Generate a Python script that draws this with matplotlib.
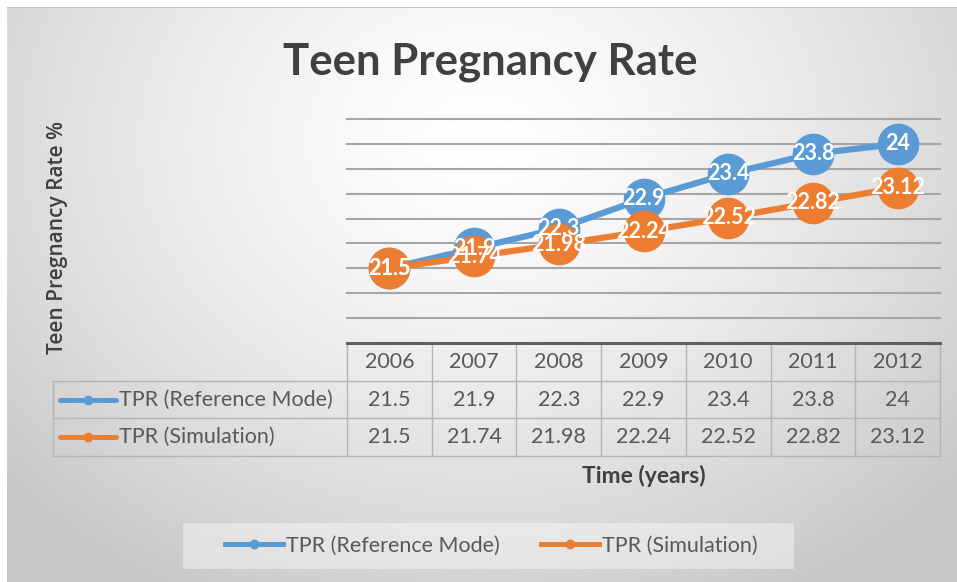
import numpy as np
import matplotlib.pyplot as plt
import matplotlib.transforms as mtransforms
from matplotlib.lines import Line2D
from matplotlib.patches import Rectangle

# data
years = ['2006', '2007', '2008', '2009', '2010', '2011', '2012']
ref_mode = [21.5, 21.9, 22.3, 22.9, 23.4, 23.8, 24]
simulation = [21.5, 21.74, 21.98, 22.24, 22.52, 22.82, 23.12]
ref_text = ['21.5', '21.9', '22.3', '22.9', '23.4', '23.8', '24']
sim_text = ['21.5', '21.74', '21.98', '22.24', '22.52', '22.82', '23.12']
series_names = ['TPR (Reference Mode)', 'TPR (Simulation)']

BLUE = '#5B9BD5'
ORANGE = '#ED7D31'
TXT = '#595959'
FONT = 'Lato'
TS = 15.5  # table / legend text size

W, H = 957, 582
fig = plt.figure(figsize=(W / 100, H / 100), dpi=100)


def px(x0, y0, x1, y1):
    # pixel box (top-left origin) -> figure fraction rect
    return [x0 / W, 1 - y1 / H, (x1 - x0) / W, (y1 - y0) / H]


# radial grey background like the Excel chart area
bg = fig.add_axes([0, 0, 1, 1], zorder=-10)
yy, xx = np.mgrid[0:H, 0:W]
d = np.sqrt(((xx - 480) / 640.0) ** 2 + ((yy - 140) / 520.0) ** 2)
shade = 1 - 0.22 * np.clip(d, 0, 1) ** 1.4
img = np.dstack([shade] * 3)
img[7, 7:] = 0.78
img[:7, :] = 1
img[:, :7] = 1
bg.imshow(img, aspect='auto', extent=(0, W, H, 0), interpolation='bilinear')
bg.axis('off')

fig.text(490 / W, 1 - 62 / H, 'Teen Pregnancy Rate', ha='center', va='center',
         fontsize=31.5, fontweight='bold', color='#404040', family=FONT)
fig.text(57 / W, 1 - 238 / H, 'Teen Pregnancy Rate %', rotation=90, ha='center',
         va='center', fontsize=15, fontweight='semibold', color='#404040',
         family='Open Sans')

# plot area
ax = fig.add_axes(px(347, 119, 940, 343))
ax.set_facecolor('none')
x = np.arange(len(years))
ax.set_xlim(-0.5, len(years) - 0.5)
ax.set_ylim(20, 24.5)
ax.set_yticks(np.arange(20.5, 24.51, 0.5))
ax.yaxis.grid(True, color='#a6a6a6', lw=1.5)
for gl in ax.get_ygridlines():
    gl.set_clip_on(False)
ax.tick_params(left=False, bottom=False, labelleft=False, labelbottom=False)
for s in ['left', 'right', 'top']:
    ax.spines[s].set_visible(False)
ax.spines['bottom'].set_color('#5f5f5f')
ax.spines['bottom'].set_linewidth(2.2)

ax.plot(x, ref_mode, color=BLUE, lw=4.5, marker='o', ms=29, zorder=3, clip_on=False)
ax.plot(x, simulation, color=ORANGE, lw=4.5, marker='o', ms=29, zorder=4, clip_on=False)
for xi, v, t in zip(x, ref_mode, ref_text):
    ax.text(xi, v, t, ha='center', va='center', color='white', fontsize=15.5,
            fontweight='bold', family=FONT, zorder=6)
for xi, v, t in zip(x, simulation, sim_text):
    ax.text(xi, v, t, ha='center', va='center', color='white', fontsize=15.5,
            fontweight='bold', family=FONT, zorder=6)

# data table under the axis
PXU = 593 / len(years)


def xpx(p):
    return -0.5 + (p - 347) / PXU


tr = mtransforms.blended_transform_factory(ax.transData, ax.transAxes)
rh = 37.7 / 224
left = xpx(53)
grid_kw = dict(color='#b4b4b4', lw=1, transform=tr, clip_on=False)
for i in range(len(years) + 1):
    ax.add_line(Line2D([i - 0.5, i - 0.5], [0, -3 * rh], **grid_kw))
ax.add_line(Line2D([left, left], [-rh, -3 * rh], **grid_kw))
for k in (1, 2, 3):
    ax.add_line(Line2D([left, len(years) - 0.5], [-k * rh, -k * rh], **grid_kw))

cell_kw = dict(ha='center', va='center', color=TXT, fontsize=TS, family=FONT,
               transform=tr, clip_on=False)
for i, yr in enumerate(years):
    ax.text(i, -0.5 * rh, yr, **cell_kw)
    ax.text(i, -1.5 * rh, ref_text[i], **cell_kw)
    ax.text(i, -2.5 * rh, sim_text[i], **cell_kw)

for r, (name, col) in enumerate(zip(series_names, [BLUE, ORANGE])):
    yc = -(r + 1.5) * rh
    ax.add_line(Line2D([xpx(60), xpx(116)], [yc, yc], color=col, lw=3.6,
                       transform=tr, clip_on=False, solid_capstyle='round'))
    ax.add_line(Line2D([xpx(88)], [yc], color=col, marker='o', ms=6,
                       transform=tr, clip_on=False))
    ax.text(xpx(119), yc, name, ha='left', va='center', color=TXT, fontsize=TS,
            family=FONT, transform=tr, clip_on=False)

fig.text(644 / W, 1 - 476 / H, 'Time (years)', ha='center', va='center',
         fontsize=16.5, fontweight='bold', color='#404040', family=FONT)

# legend
fig.patches.append(Rectangle((183 / W, 1 - 569 / H), 611 / W, 46 / H,
                             transform=fig.transFigure, fc='white', alpha=0.4,
                             ec='none', zorder=0))
handles = [Line2D([], [], color=BLUE, lw=3.6, marker='o', ms=6),
           Line2D([], [], color=ORANGE, lw=3.6, marker='o', ms=6)]
fig.legend(handles, series_names, loc='center', bbox_to_anchor=(491 / W, 1 - 546 / H),
           ncol=2, frameon=False, handlelength=2.7, handletextpad=0.15,
           columnspacing=1.9, prop={'family': FONT, 'size': TS},
           labelcolor=TXT)

fig.savefig('out.png', dpi=100)
